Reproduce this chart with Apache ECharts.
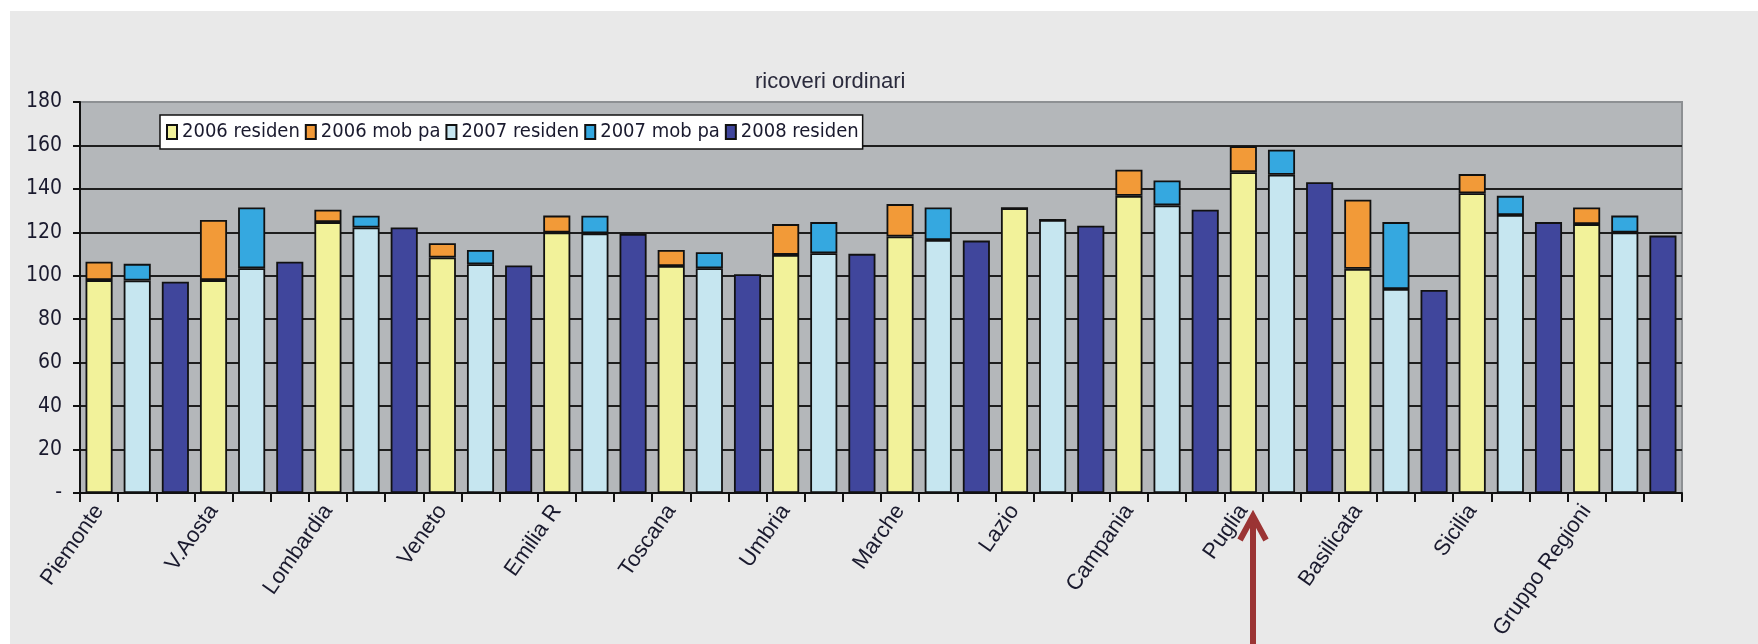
<!DOCTYPE html>
<html>
<head>
<meta charset="utf-8">
<script src="https://cdn.jsdelivr.net/npm/echarts@6/dist/echarts.min.js"></script>
<style>
  html, body { margin: 0; padding: 0; background: #ffffff; }
  #frame { position: relative; width: 1758px; height: 644px; background: #ffffff; overflow: hidden; }
  #chart { position: absolute; left: 10px; top: 11px; width: 1748px; height: 633px; background: #e9e9e9; }
</style>
</head>
<body>
<div id="frame"><div id="chart"></div></div>
<script>
// Regions (one group of three bars each: 2006, 2007, 2008)
const regions = ['Piemonte', 'V.Aosta', 'Lombardia', 'Veneto', 'Emilia R', 'Toscana', 'Umbria',
  'Marche', 'Lazio', 'Campania', 'Puglia', 'Basilicata', 'Sicilia', 'Gruppo Regioni'];
const years = ['2006', '2007', '2008'];

// Ordinary admissions per region
const res2006 = [98, 98, 124.7, 108.4, 119.9, 104.5, 109.6, 118.1, 131.1, 136.8, 147.7, 103.2, 138, 123.8];
const mob2006 = [8.5, 27.7, 5.7, 6.6, 7.8, 7.4, 14.2, 14.9, 0, 12, 11.9, 31.8, 8.8, 7.6];
const res2007 = [97.8, 103.5, 122.2, 105.3, 119.5, 103.5, 110.4, 116.5, 125.7, 132.4, 146.5, 93.9, 128, 119.9];
const mob2007 = [7.7, 27.9, 5.4, 6.6, 8.1, 7.3, 14.3, 14.9, 0, 11.5, 11.5, 30.8, 8.8, 7.8];
const res2008 = [97.3, 106.5, 122.2, 104.7, 119.3, 100.7, 110.1, 116.2, 123, 130.4, 143.1, 93.5, 124.7, 118.5];

const seriesNames = ['2006 residenti', '2006 mob passiva', '2007 residenti', '2007 mob passiva', '2008 residenti'];
const seriesColors = ['#f2f29a', '#f29a38', '#c6e6f0', '#35a8e0', '#40469c'];

// y axis ticks
const yMin = 0, yMax = 180, yStep = 20;

// one category per bar: region|year
const categories = [];
regions.forEach(r => years.forEach(y => categories.push(r + '|' + y)));

// place a region-level array into the slot of a given year
function slot(values, yearIdx) {
  const out = [];
  values.forEach(v => { for (let k = 0; k < 3; k++) out.push(k === yearIdx ? v : '-'); });
  return out;
}

const seriesData = [slot(res2006, 0), slot(mob2006, 0), slot(res2007, 1), slot(mob2007, 1), slot(res2008, 2)];

const chart = echarts.init(document.getElementById('chart'), null, { renderer: 'canvas' });

const narrow = '"Liberation Sans Narrow", "DejaVu Sans Condensed", "Liberation Sans", sans-serif';
const regular = '"Liberation Sans", Arial, sans-serif';

// grid lines: dark for inner lines, lighter for the top border line
const splitColors = [];
for (let v = yMin; v <= yMax; v += yStep) splitColors.push(v === yMax ? '#8d9093' : '#1e1e1e');

chart.setOption({
  animation: false,
  title: {
    text: 'ricoveri ordinari',
    left: 740,
    top: 55,
    textStyle: { fontFamily: regular, fontSize: 22, fontWeight: 'normal', color: '#2a2a3c' }
  },
  legend: {
    left: 150,
    top: 104,
    orient: 'horizontal',
    backgroundColor: '#ffffff',
    borderColor: '#111111',
    borderWidth: 1.5,
    borderRadius: 0,
    padding: [7, 4, 7, 6],
    itemGap: 5,
    itemWidth: 10,
    itemHeight: 14,
    icon: 'rect',
    textStyle: {
      fontFamily: narrow, fontSize: 20, color: '#1a1a2e',
      width: 125, overflow: 'truncate', ellipsis: ''
    },
    data: seriesNames
  },
  grid: {
    left: 70, top: 91, right: 76, bottom: 151,
    show: true,
    backgroundColor: '#b4b7ba',
    borderColor: '#8d9093',
    borderWidth: 2
  },
  xAxis: {
    type: 'category',
    data: categories,
    boundaryGap: true,
    axisLine: { lineStyle: { color: '#111111', width: 2 } },
    axisTick: { show: true, interval: 0, length: 9, lineStyle: { color: '#111111', width: 2 } },
    axisLabel: {
      interval: 0,
      rotate: 55,
      margin: 14,
      fontFamily: regular,
      fontSize: 22,
      color: '#1a1a2e',
      formatter: (v, i) => (i % 3 === 0 ? v.split('|')[0] : '')
    },
    splitLine: { show: false }
  },
  yAxis: {
    type: 'value',
    min: yMin,
    max: yMax,
    interval: yStep,
    axisLine: { show: true, lineStyle: { color: '#111111', width: 2 } },
    axisTick: { show: true, length: 7, lineStyle: { color: '#111111', width: 2 } },
    axisLabel: {
      margin: 18,
      fontFamily: narrow,
      fontSize: 21,
      color: '#1a1a2e',
      formatter: v => (v === 0 ? '-' : String(v))
    },
    splitLine: { show: true, lineStyle: { color: splitColors, width: 2 } }
  },
  series: seriesNames.map((name, i) => ({
    name: name,
    type: 'bar',
    stack: 'total',
    barWidth: '71%',
    data: seriesData[i],
    itemStyle: { color: seriesColors[i], borderColor: '#111111', borderWidth: 1.8 }
  })),
  graphic: [
    {
      type: 'line',
      shape: { x1: 1243, y1: 508, x2: 1243, y2: 640 },
      style: { stroke: '#9b3434', lineWidth: 6 },
      z: 100
    },
    {
      type: 'polyline',
      shape: { points: [[1230, 529], [1243, 505], [1256, 529]] },
      style: { stroke: '#9b3434', lineWidth: 6, fill: null, lineJoin: 'miter' },
      z: 100
    }
  ]
});
</script>
</body>
</html>
